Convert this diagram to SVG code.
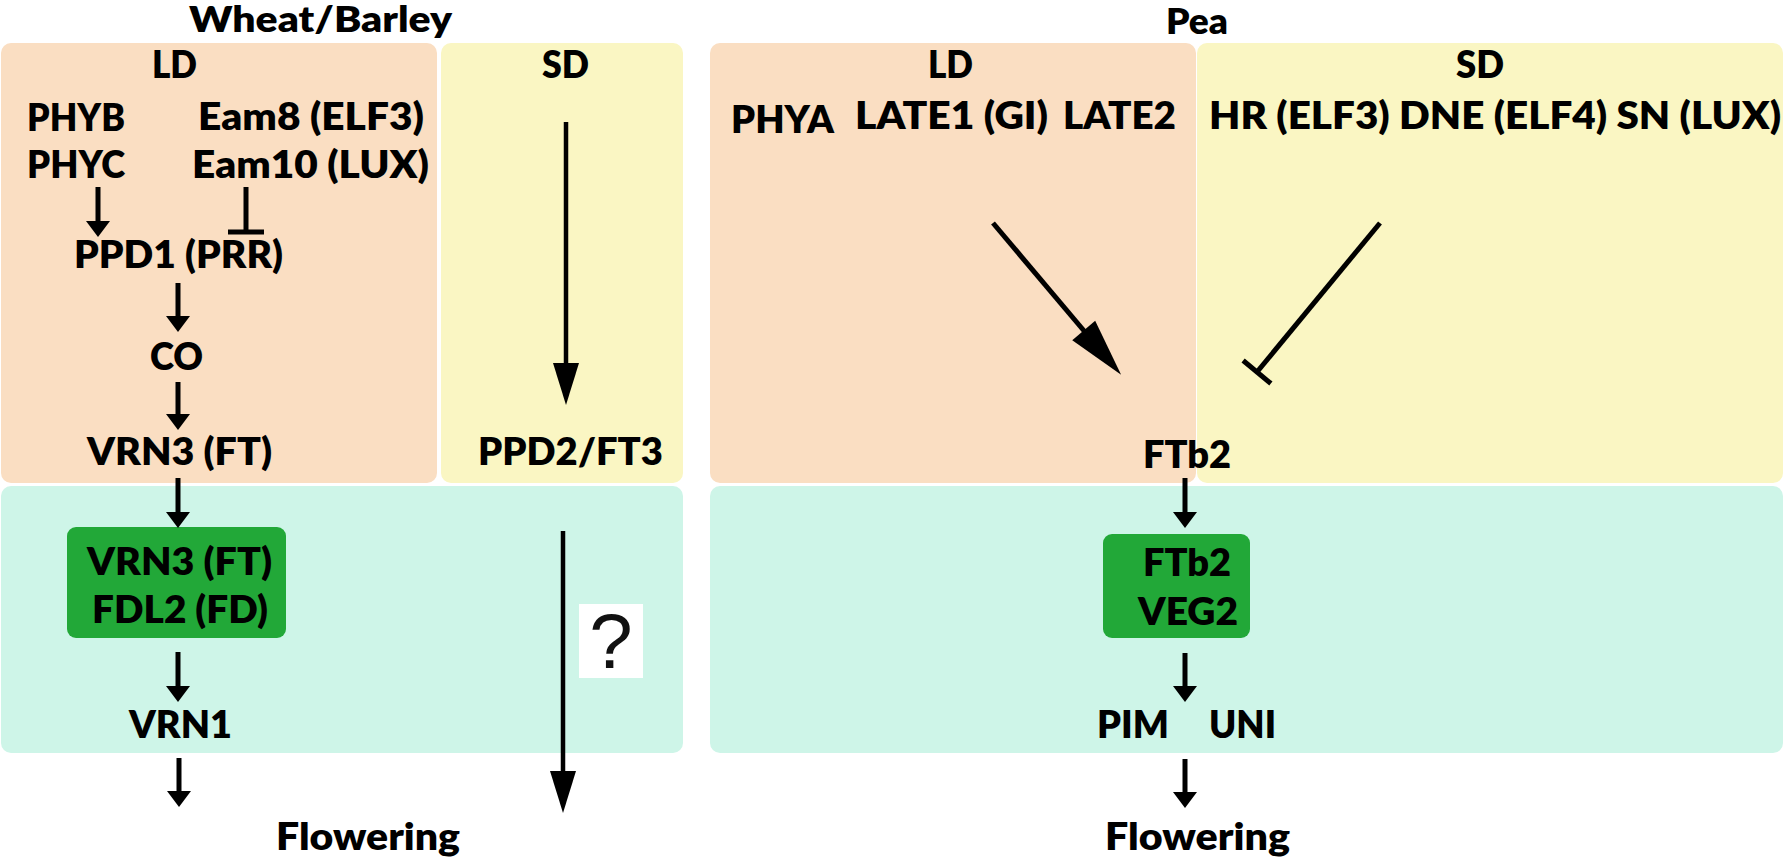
<svg xmlns="http://www.w3.org/2000/svg" width="1785" height="860" viewBox="0 0 1785 860">
<style>
.t{font-family:Lato,"Open Sans","Liberation Sans",sans-serif;font-weight:800;font-size:38px;fill:#000}
.h{font-size:36px}
.ld{fill:#FADEC2}
.sd{fill:#FAF6C3}
.cy{fill:#CEF5E8}
.gb{fill:#22A838}
.c{stroke:#000;stroke-width:5;fill:none}
.cb{stroke:#000;stroke-width:4.5;fill:none}
</style>
<defs>
<marker id="arr" markerUnits="userSpaceOnUse" markerWidth="18" markerHeight="24" refX="2" refY="12" orient="auto" overflow="visible"><path d="M0,0 L16,12 L0,24 z" fill="#000"/></marker>
<marker id="arrBig" markerUnits="userSpaceOnUse" markerWidth="44" markerHeight="26" refX="2" refY="13" orient="auto" overflow="visible"><path d="M0,0 L42,13 L0,26 z" fill="#000"/></marker>
<marker id="arrDiag" markerUnits="userSpaceOnUse" markerWidth="60" markerHeight="30" refX="2" refY="15" orient="auto" overflow="visible"><path d="M0,0 L58,15 L0,30 z" fill="#000"/></marker>
<marker id="tee" markerUnits="userSpaceOnUse" markerWidth="6" markerHeight="36" refX="2.5" refY="18" orient="auto" overflow="visible"><rect x="0" y="0" width="5" height="36" fill="#000"/></marker>
</defs>

<g id="panels">
<rect id="wb-ld" class="ld" x="1" y="43" width="436" height="440" rx="10"/>
<rect id="wb-sd" class="sd" x="441" y="43" width="242" height="440" rx="10"/>
<rect id="wb-leaf" class="cy" x="1" y="486" width="682" height="267" rx="10"/>
<rect id="pea-ld" class="ld" x="710" y="43" width="486" height="440" rx="10"/>
<rect id="pea-sd" class="sd" x="1197" y="43" width="586" height="440" rx="10"/>
<rect id="pea-leaf" class="cy" x="710" y="486" width="1073" height="267" rx="10"/>
</g>

<g id="titles">
<text class="t h" x="189" y="32" textLength="263" lengthAdjust="spacingAndGlyphs">Wheat/Barley</text>
<text class="t h" x="1166" y="34" textLength="62" lengthAdjust="spacingAndGlyphs">Pea</text>
<text class="t" x="152" y="78" textLength="45" lengthAdjust="spacingAndGlyphs">LD</text>
<text class="t" x="542" y="78" textLength="47" lengthAdjust="spacingAndGlyphs">SD</text>
<text class="t" x="928" y="78" textLength="45" lengthAdjust="spacingAndGlyphs">LD</text>
<text class="t" x="1456" y="78" textLength="48" lengthAdjust="spacingAndGlyphs">SD</text>
</g>

<g id="node-phyb"><text class="t" x="27" y="131" textLength="98" lengthAdjust="spacingAndGlyphs">PHYB</text></g>
<g id="node-phyc"><text class="t" x="27" y="178" textLength="98" lengthAdjust="spacingAndGlyphs">PHYC</text></g>
<g id="node-eam8"><text class="t" x="198" y="130" textLength="226" lengthAdjust="spacingAndGlyphs">Eam8 (ELF3)</text></g>
<g id="node-eam10"><text class="t" x="192" y="178" textLength="237" lengthAdjust="spacingAndGlyphs">Eam10 (LUX)</text></g>
<g id="node-ppd1"><text class="t" x="74" y="268" textLength="209" lengthAdjust="spacingAndGlyphs">PPD1 (PRR)</text></g>
<g id="node-co"><text class="t" x="150" y="370" textLength="53" lengthAdjust="spacingAndGlyphs">CO</text></g>
<g id="node-vrn3"><text class="t" x="87" y="465" textLength="185" lengthAdjust="spacingAndGlyphs">VRN3 (FT)</text></g>
<g id="node-ppd2"><text class="t" x="478" y="465" textLength="185" lengthAdjust="spacingAndGlyphs">PPD2/FT3</text></g>
<g id="node-complex-wb">
<rect class="gb" x="67" y="527" width="219" height="111" rx="9"/>
<text class="t" x="87" y="575" textLength="185" lengthAdjust="spacingAndGlyphs">VRN3 (FT)</text>
<text class="t" x="92" y="623" textLength="176" lengthAdjust="spacingAndGlyphs">FDL2 (FD)</text>
</g>
<g id="node-vrn1"><text class="t" x="129" y="738" textLength="103" lengthAdjust="spacingAndGlyphs">VRN1</text></g>
<g id="node-flowering-wb"><text class="t" x="276" y="850" textLength="184" lengthAdjust="spacingAndGlyphs">Flowering</text></g>
<g id="node-question">
<rect x="579" y="604" width="64" height="74" fill="#fff"/>
<text x="611" y="668" text-anchor="middle" font-family="'Liberation Sans',Arial,sans-serif" font-size="78" fill="#111">?</text>
</g>

<g id="node-phya"><text class="t" x="731" y="133" textLength="103" lengthAdjust="spacingAndGlyphs">PHYA</text></g>
<g id="node-late1"><text class="t" x="855" y="129" textLength="193" lengthAdjust="spacingAndGlyphs">LATE1 (GI)</text></g>
<g id="node-late2"><text class="t" x="1063" y="129" textLength="113" lengthAdjust="spacingAndGlyphs">LATE2</text></g>
<g id="node-sd-genes"><text class="t" x="1209" y="129" textLength="572" lengthAdjust="spacingAndGlyphs">HR (ELF3) DNE (ELF4) SN (LUX)</text></g>
<g id="node-ftb2"><text class="t" x="1143" y="468" textLength="88" lengthAdjust="spacingAndGlyphs">FTb2</text></g>
<g id="node-complex-pea">
<rect class="gb" x="1103" y="534" width="147" height="104" rx="9"/>
<text class="t" x="1143" y="576" textLength="88" lengthAdjust="spacingAndGlyphs">FTb2</text>
<text class="t" x="1138" y="625" textLength="100" lengthAdjust="spacingAndGlyphs">VEG2</text>
</g>
<g id="node-pim"><text class="t" x="1097" y="738" textLength="72" lengthAdjust="spacingAndGlyphs">PIM</text></g>
<g id="node-uni"><text class="t" x="1209" y="738" textLength="67" lengthAdjust="spacingAndGlyphs">UNI</text></g>
<g id="node-flowering-pea"><text class="t" x="1105" y="850" textLength="185" lengthAdjust="spacingAndGlyphs">Flowering</text></g>

<g id="connectors">
<line class="c" x1="98" y1="187" x2="98" y2="223" marker-end="url(#arr)"/>
<line class="c" x1="246" y1="187" x2="246" y2="232" marker-end="url(#tee)"/>
<line class="c" x1="178" y1="283" x2="178" y2="318" marker-end="url(#arr)"/>
<line class="c" x1="178" y1="382" x2="178" y2="416" marker-end="url(#arr)"/>
<line class="cb" x1="566" y1="122" x2="566" y2="365" marker-end="url(#arrBig)"/>
<line class="c" x1="178" y1="478" x2="178" y2="514" marker-end="url(#arr)"/>
<line class="c" x1="178" y1="652" x2="178" y2="688" marker-end="url(#arr)"/>
<line class="c" x1="179" y1="758" x2="179" y2="793" marker-end="url(#arr)"/>
<line class="cb" x1="563" y1="531" x2="563" y2="773" marker-end="url(#arrBig)"/>
<line class="c" x1="993" y1="223" x2="1085" y2="332" marker-end="url(#arrDiag)"/>
<line class="c" x1="1380" y1="223" x2="1257" y2="372" marker-end="url(#tee)"/>
<line class="c" x1="1185" y1="478" x2="1185" y2="514" marker-end="url(#arr)"/>
<line class="c" x1="1185" y1="653" x2="1185" y2="688" marker-end="url(#arr)"/>
<line class="c" x1="1185" y1="759" x2="1185" y2="794" marker-end="url(#arr)"/>
</g>
</svg>
